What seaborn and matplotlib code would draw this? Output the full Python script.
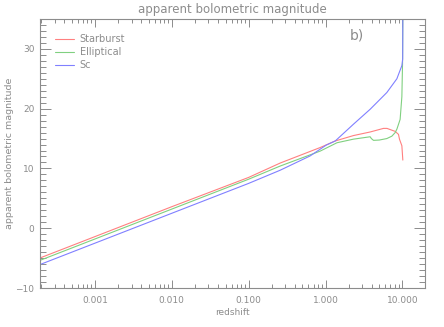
import matplotlib
matplotlib.use('Agg')

import matplotlib.pyplot as plt
import matplotlib.ticker as mticker
import seaborn as sns

# values
z_starburst = [2e-4, 0.01, 0.1, 0.257, 0.853, 1.34, 2.31, 3.81, 5.68, 6.3, 7.3, 8.06, 8.9, 9.17, 9.85, 10.14]
m_starburst = [-4.9, 3.6, 8.5, 10.9, 13.5, 14.6, 15.5, 16.1, 16.7, 16.7, 16.4, 16.2, 15.7, 14.9, 13.8, 11.4]

z_elliptical = [2e-4, 0.01, 0.1, 0.257, 0.853, 1.41, 2.31, 3.81, 3.95, 4.21, 5.0, 6.28, 7.3, 8.06, 8.5, 9.35, 9.85, 10.05, 10.14]
m_elliptical = [-5.3, 3.2, 8.2, 10.4, 12.9, 14.3, 14.9, 15.3, 15.0, 14.7, 14.75, 15.0, 15.4, 16.0, 16.6, 18.2, 22.0, 27.5, 36.0]

z_sc = [2e-4, 0.01, 0.1, 0.257, 0.632, 1.02, 1.34, 2.31, 3.81, 6.28, 8.48, 9.85, 10.1, 10.14]
m_sc = [-6.0, 2.5, 7.5, 9.7, 12.1, 13.9, 14.6, 17.4, 19.9, 22.7, 25.0, 27.2, 28.3, 36.0]

labels = ["Starburst", "Elliptical", "Sc"]
colors = ["#ff8080", "#80d080", "#8080ff"]
grey = "#8c8c8c"

sns.set_style("ticks")
plt.rcParams['font.family'] = ['DejaVu Sans']

fig = plt.figure(figsize=(4.44, 3.27), dpi=100)
ax = fig.add_axes([40 / 444, 39 / 327, 385 / 444, 269 / 327])
ax.set_xscale('log')

series = [(z_starburst, m_starburst), (z_elliptical, m_elliptical), (z_sc, m_sc)]
for (z, m), lab, col in zip(series, labels, colors):
    sns.lineplot(x=z, y=m, sort=False, estimator=None, color=col, lw=0.8, label=lab, ax=ax)

ax.set_xlim(1.93e-4, 19.7)
ax.set_ylim(-10, 35)

ax.xaxis.set_major_locator(mticker.FixedLocator([0.001, 0.01, 0.1, 1, 10]))
ax.xaxis.set_major_formatter(mticker.FuncFormatter(lambda v, p: "%.3f" % v))
ax.xaxis.set_minor_locator(mticker.LogLocator(base=10, subs=range(2, 10), numticks=20))
ax.xaxis.set_minor_formatter(mticker.NullFormatter())
ax.yaxis.set_major_locator(mticker.MultipleLocator(10))
ax.yaxis.set_minor_locator(mticker.MultipleLocator(1))

ax.tick_params(which='both', direction='in', bottom=True, left=True, top=True, right=True,
               colors=grey, labelcolor=grey, labelsize=6.5, width=0.7)
ax.tick_params(axis='y', which='major', length=8, pad=4)
ax.tick_params(axis='y', which='minor', length=4)
ax.tick_params(axis='x', which='major', length=6, pad=6)
ax.tick_params(axis='x', which='minor', length=3)
for s in ax.spines.values():
    s.set_color(grey)
    s.set_linewidth(0.8)

ax.set_title("apparent bolometric magnitude", color=grey, fontsize=8.5, pad=4)
ax.set_xlabel("redshift", color=grey, fontsize=6.5, labelpad=2)
ax.set_ylabel("apparent bolometric magnitude", color=grey, fontsize=6.8, labelpad=1)

ax.text(0.805, 0.94, "b)", transform=ax.transAxes, color=grey, fontsize=10, ha='left', va='center')

leg = ax.legend(loc='upper left', bbox_to_anchor=(0.025, 0.965), frameon=False,
                fontsize=7, handlelength=1.9, handletextpad=0.6, labelspacing=0.3,
                borderaxespad=0.2)
for t, h, c in zip(leg.get_texts(), leg.legend_handles, colors):
    t.set_color(grey)
    h.set_color(c)

fig.savefig("out.png", dpi=100)
